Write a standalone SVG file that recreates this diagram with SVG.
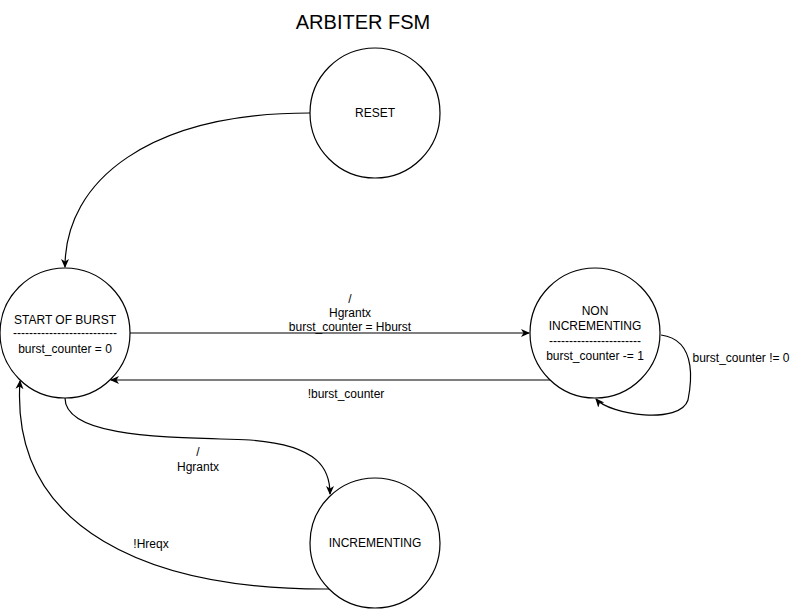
<svg xmlns="http://www.w3.org/2000/svg" width="801" height="609" viewBox="0 0 801 609">
<style>
.st{fill:#fff;stroke:#000;stroke-width:1.2}
.e{fill:none;stroke:#000;stroke-width:1.2}
text{font-family:"Liberation Sans",Arial,sans-serif;font-size:12px;fill:#000;text-anchor:middle}
.t{font-size:20px}
</style>
<defs>
<marker id="a" markerWidth="10" markerHeight="10" refX="8" refY="4" orient="auto" markerUnits="userSpaceOnUse">
<path d="M0,0 L9,4 L0,8 L2.5,4 Z" fill="#000"/>
</marker>
</defs>
<rect width="801" height="609" fill="#fff"/>
<text class="t" x="363" y="29">ARBITER FSM</text>
<g id="connectors">
<path class="e" d="M310 113 C 150 113, 65 180, 65 267" marker-end="url(#a)"/>
<path class="e" d="M130 333 L 529 333" marker-end="url(#a)"/>
<path class="e" d="M550 380 L 111 380" marker-end="url(#a)"/>
<path class="e" d="M661 335 C 700 340, 690 390, 688 400 C 680 425, 610 415, 596 399" marker-end="url(#a)"/>
<path class="e" d="M65 398 C 65 440, 180 437, 250 440 C 320 445, 330 470, 330 494" marker-end="url(#a)"/>
<path class="e" d="M329 589 C 150 590, 10 530, 20 381" marker-end="url(#a)"/>
<text x="350" y="303">/</text>
<text x="350" y="317">Hgrantx</text>
<text x="350" y="331">burst_counter = Hburst</text>
<text x="346" y="398">!burst_counter</text>
<text x="741" y="362">burst_counter != 0</text>
<text x="198" y="456">/</text>
<text x="198" y="471">Hgrantx</text>
<text x="151" y="548">!Hreqx</text>
</g>
<g id="reset">
<circle class="st" cx="375" cy="113" r="65"/>
<text x="375" y="117">RESET</text>
</g>
<g id="start">
<circle class="st" cx="65" cy="333" r="65"/>
<text x="65" y="324">START OF BURST</text>
<text x="65" y="337">--------------------------</text>
<text x="65" y="353">burst_counter = 0</text>
</g>
<g id="nonincr">
<circle class="st" cx="595" cy="333" r="65"/>
<text x="595" y="315">NON</text>
<text x="595" y="330">INCREMENTING</text>
<text x="595" y="345">-----------------------</text>
<text x="595" y="360">burst_counter -= 1</text>
</g>
<g id="incr">
<circle class="st" cx="375" cy="543" r="65"/>
<text x="375" y="547">INCREMENTING</text>
</g>
</svg>
